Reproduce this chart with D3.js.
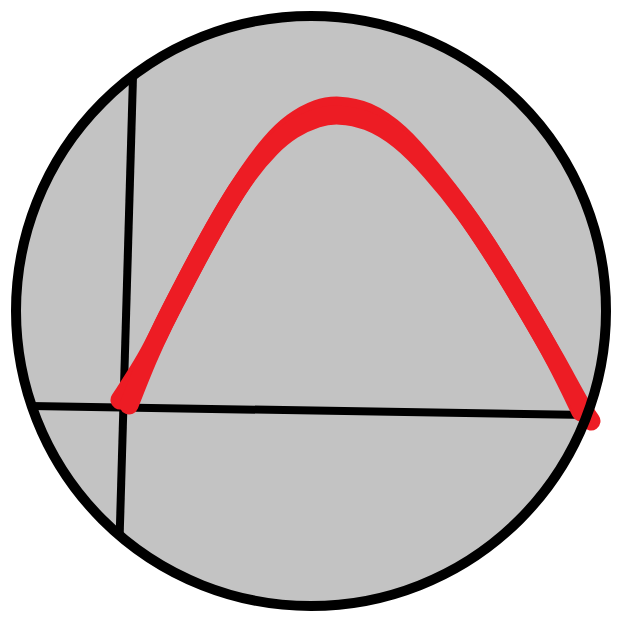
<!DOCTYPE html>
<html><head><meta charset="utf-8">
<script src="https://cdn.jsdelivr.net/npm/d3@7"></script>
<style>html,body{margin:0;padding:0;background:#fff;}svg{display:block;}</style>
</head><body>
<svg id="chart" width="621" height="621"></svg>
<script>
// Curve A (upper / left stroke)
const curveAX = [-0.043, 0.556, 0.897, 1.261, 1.709, 2.222, 2.692, 3.162, 3.632, 4.188, 4.615, 5.235, 5.940, 6.581, 7.308, 8.013, 8.654, 9.274, 9.808];
const curveAY = [0.135, 1.588, 2.736, 3.851, 5.203, 6.655, 7.804, 8.818, 9.544, 10.017, 10.101, 9.949, 9.189, 8.007, 6.554, 4.865, 3.176, 1.486, -0.270];
// Curve B (lower / right stroke)
const curveBX = [0.150, 0.556, 0.897, 1.261, 1.709, 2.222, 2.692, 3.162, 3.632, 4.188, 4.615, 5.235, 5.940, 6.581, 7.308, 8.013, 8.654, 9.274, 9.850, 10.021];
const curveBY = [-0.034, 1.588, 2.736, 3.851, 5.203, 6.655, 7.804, 8.682, 9.307, 9.713, 9.797, 9.645, 8.986, 7.939, 6.554, 4.865, 3.176, 1.486, -0.203, -0.574];
// Axis lines (data coordinates of endpoints)
const yAxisX = [0.27, -0.09];
const yAxisY = [12.97, -6.62];
const xAxisX = [-2.61, 10.66];
const xAxisY = [-0.05, -0.39];

const W = 621, H = 621;
const svg = d3.select("#chart");
const x = d3.scaleLinear().domain([0, 10]).range([122, 590]);
const y = d3.scaleLinear().domain([0, 10]).range([404, 108]);

const cx = 311, cy = 311, r = 295;
const defs = svg.append("defs");
defs.append("clipPath").attr("id", "clip").append("circle")
  .attr("cx", cx).attr("cy", cy).attr("r", r);

svg.append("circle").attr("cx", cx).attr("cy", cy).attr("r", r)
  .attr("fill", "#c3c3c3");

const g = svg.append("g").attr("clip-path", "url(#clip)");
const line = d3.line().x(d => x(d[0])).y(d => y(d[1]));

g.append("path").datum(d3.zip(yAxisX, yAxisY)).attr("d", line)
  .attr("stroke", "#000").attr("stroke-width", 8).attr("fill", "none");
g.append("path").datum(d3.zip(xAxisX, xAxisY)).attr("d", line)
  .attr("stroke", "#000").attr("stroke-width", 8).attr("fill", "none");

const curveLine = d3.line().x(d => x(d[0])).y(d => y(d[1])).curve(d3.curveBasis);
[[curveAX, curveAY], [curveBX, curveBY]].forEach(([xs, ys]) => {
  svg.append("path").datum(d3.zip(xs, ys)).attr("d", curveLine)
    .attr("stroke", "#ed1c24").attr("stroke-width", 19).attr("fill", "none")
    .attr("stroke-linecap", "round").attr("stroke-linejoin", "round");
});

svg.append("circle").attr("cx", cx).attr("cy", cy).attr("r", r)
  .attr("fill", "none").attr("stroke", "#000").attr("stroke-width", 10);
</script>
</body></html>
